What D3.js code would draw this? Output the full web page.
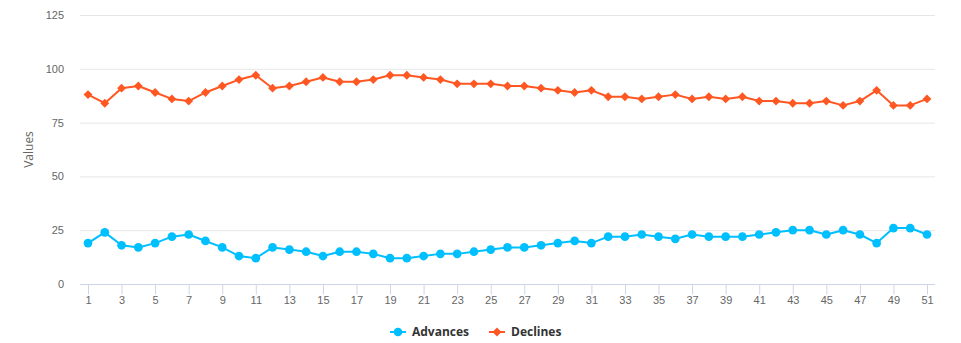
<!DOCTYPE html>
<html>
<head>
<meta charset="utf-8">
<script src="https://cdn.jsdelivr.net/npm/d3@7"></script>
<style>
  body { margin: 0; background: #fff; }
  svg { display: block; font-family: "Open Sans", "DejaVu Sans", sans-serif; }
</style>
</head>
<body>
<svg id="chart" width="961" height="343"></svg>
<script>
// Weekly market breadth: number of advancing vs declining issues
const periods = d3.range(1, 52);
const advances = [19, 24, 18, 17, 19, 22, 23, 20, 17, 13, 12, 17, 16, 15, 13, 15, 15, 14, 12, 12,
  13, 14, 14, 15, 16, 17, 17, 18, 19, 20, 19, 22, 22, 23, 22, 21, 23, 22, 22, 22,
  23, 24, 25, 25, 23, 25, 23, 19, 26, 26, 23];
const declines = [88, 84, 91, 92, 89, 86, 85, 89, 92, 95, 97, 91, 92, 94, 96, 94, 94, 95, 97, 97,
  96, 95, 93, 93, 93, 92, 92, 91, 90, 89, 90, 87, 87, 86, 87, 88, 86, 87, 86, 87,
  85, 85, 84, 84, 85, 83, 85, 90, 83, 83, 86];
const yTicks = [0, 25, 50, 75, 100, 125];
const xTicks = periods.filter(d => d % 2 === 1);

const series = [
  { name: "Advances", values: advances, color: "#00bfff", symbol: "circle" },
  { name: "Declines", values: declines, color: "#ff5722", symbol: "diamond" }
];

const svg = d3.select("#chart");
const plot = { left: 80, right: 935, top: 15, bottom: 284 };

const x = d3.scaleLinear().domain([1, 51]).range([plot.left + 8, plot.right - 8]);
const y = d3.scaleLinear().domain([0, 125]).range([plot.bottom, plot.top]);

// horizontal grid lines
svg.append("g")
  .selectAll("line")
  .data(yTicks.filter(d => d > 0))
  .join("line")
  .attr("x1", plot.left).attr("x2", plot.right)
  .attr("y1", d => y(d) + 0.5).attr("y2", d => y(d) + 0.5)
  .attr("stroke", "#e6e6e6");

// y axis labels
const yAxis = svg.append("g")
  .attr("transform", `translate(${plot.left},0)`)
  .call(d3.axisLeft(y).tickValues(yTicks).tickSize(0).tickPadding(16));
yAxis.select(".domain").remove();
yAxis.selectAll("text").attr("fill", "#666").style("font-size", "11px");

// x axis
const xAxis = svg.append("g")
  .attr("transform", `translate(0,${plot.bottom + 0.5})`)
  .call(d3.axisBottom(x).tickValues(xTicks).tickSize(10).tickPadding(2).tickFormat(d3.format("d")));
xAxis.select(".domain")
  .attr("d", `M${plot.left},0H${plot.right}`)
  .attr("stroke", "#ccd6eb");
xAxis.selectAll(".tick line").attr("stroke", "#ccd6eb");
xAxis.selectAll("text").attr("fill", "#666").style("font-size", "11px");

// y axis title
svg.append("text")
  .attr("transform", `translate(33,${(plot.top + plot.bottom) / 2}) rotate(-90)`)
  .attr("text-anchor", "middle")
  .attr("fill", "#666")
  .style("font-size", "12px")
  .text("Values");

const line = d3.line().x((d, i) => x(periods[i])).y(d => y(d));
const symbolGen = {
  circle: d3.symbol().type(d3.symbolCircle).size(60),
  diamond: d3.symbol().type(d3.symbolDiamond2).size(50)
};

series.forEach(s => {
  const g = svg.append("g");
  g.append("path")
    .datum(s.values)
    .attr("d", line)
    .attr("fill", "none")
    .attr("stroke", s.color)
    .attr("stroke-width", 2)
    .attr("stroke-linejoin", "round");
  g.selectAll("path.marker")
    .data(s.values)
    .join("path")
    .attr("class", "marker")
    .attr("transform", (d, i) => `translate(${x(periods[i])},${y(d)})`)
    .attr("d", symbolGen[s.symbol])
    .attr("fill", s.color);
});

// legend
const legendItems = [
  { s: series[0], x: 390 },
  { s: series[1], x: 489 }
];
const legend = svg.append("g").attr("transform", "translate(0,332)");
legendItems.forEach(({ s, x: lx }) => {
  const item = legend.append("g").attr("transform", `translate(${lx},0)`);
  item.append("line")
    .attr("x1", 0).attr("x2", 16).attr("y1", 0).attr("y2", 0)
    .attr("stroke", s.color).attr("stroke-width", 2);
  item.append("path")
    .attr("transform", "translate(8,0)")
    .attr("d", symbolGen[s.symbol])
    .attr("fill", s.color);
  item.append("text")
    .attr("x", 22).attr("y", 0).attr("dy", "0.35em")
    .attr("fill", "#333")
    .style("font-size", "12px")
    .style("font-weight", "bold")
    .text(s.name);
});
</script>
</body>
</html>
